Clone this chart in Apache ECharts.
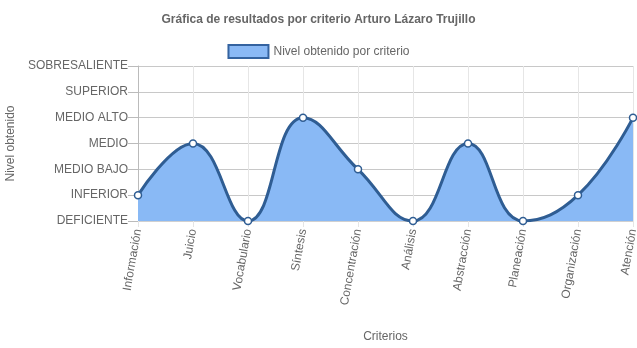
<!DOCTYPE html>
<html><head><meta charset="utf-8">
<script src="https://cdn.jsdelivr.net/npm/echarts@6/dist/echarts.min.js"></script>
<style>html,body{margin:0;padding:0;background:#fff}#c{width:637px;height:348px}</style>
</head><body><div id="c"></div>
<script>
const categories = ['Información','Juicio','Vocabulario','Síntesis','Concentración','Análisis','Abstracción','Planeación','Organización','Atención'];
const levels = ['DEFICIENTE','INFERIOR','MEDIO BAJO','MEDIO','MEDIO ALTO','SUPERIOR','SOBRESALIENTE'];
const values = [1,3,0,4,2,0,3,0,1,4];
const font = 'Liberation Sans, Arial, Helvetica, sans-serif';
const chart = echarts.init(document.getElementById('c'));
chart.setOption({
  animation:false,
  textStyle:{fontFamily:font},
  title:{text:'Gráfica de resultados por criterio Arturo Lázaro Trujillo',left:'center',top:9,
    textStyle:{fontSize:12,fontWeight:'bold',color:'#666',fontFamily:font}},
  legend:{top:39,left:'center',itemWidth:40,itemHeight:13,itemGap:6,
    icon:'rect',
    textStyle:{fontSize:12,color:'#666',fontFamily:font},
    data:[{name:'Nivel obtenido por criterio',itemStyle:{color:'#8ab9f5',borderColor:'#3463a0',borderWidth:2}}]},
  grid:{left:138,right:4,top:66,bottom:127,containLabel:false,outerBoundsMode:'none'},
  xAxis:{type:'category',data:categories,boundaryGap:false,
    name:'Criterios',nameLocation:'middle',nameGap:110,
    nameTextStyle:{fontSize:12,color:'#666'},
    axisLine:{show:true,lineStyle:{color:'#d0d0d0'}},
    axisTick:{show:true,length:6,inside:false,lineStyle:{color:'#e5e5e5'}},
    axisLabel:{rotate:80,fontSize:12,color:'#666',margin:8,interval:0},
    splitLine:{show:true,lineStyle:{color:'#e6e6e6'}}},
  yAxis:{type:'value',min:0,max:6,interval:1,
    name:'Nivel obtenido',nameLocation:'middle',nameGap:119,nameRotate:90,
    nameTextStyle:{fontSize:12,color:'#666'},
    axisLine:{show:true,lineStyle:{color:'#bbb'}},
    axisTick:{show:true,length:10,lineStyle:{color:'#bbb'}},
    axisLabel:{fontSize:12,color:'#666',margin:10,formatter:v=>levels[v]},
    splitLine:{show:true,lineStyle:{color:'#c8c8c8'}}},
  series:[{name:'Nivel obtenido por criterio',type:'line',data:values,smooth:0.45,
    symbol:'circle',symbolSize:7,
    itemStyle:{color:'#fff',borderColor:'#2f5d93',borderWidth:1.5},
    lineStyle:{color:'#2f5d93',width:3},
    areaStyle:{color:'#89b9f5',opacity:1}}]
});
</script></body></html>
